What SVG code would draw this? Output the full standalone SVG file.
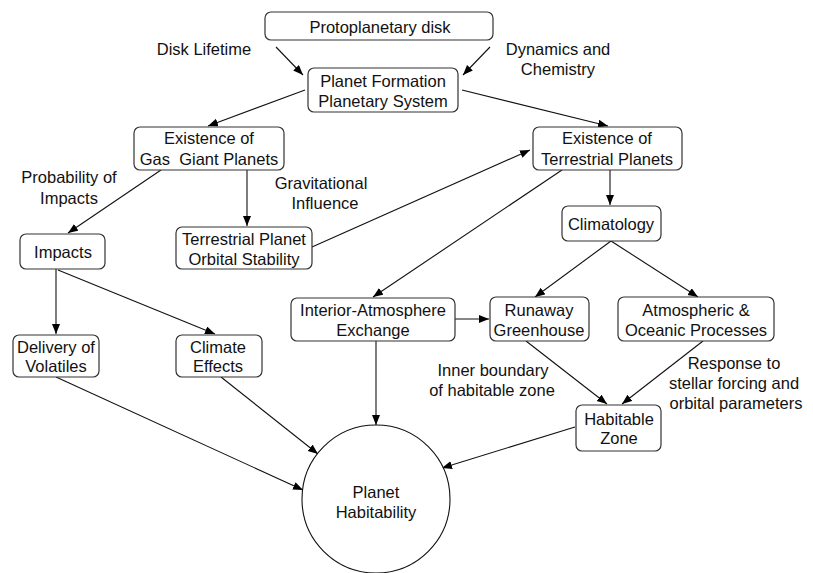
<svg xmlns="http://www.w3.org/2000/svg" width="813" height="573" viewBox="0 0 813 573">
<defs>
<marker id="ah" markerUnits="userSpaceOnUse" markerWidth="11" markerHeight="9" refX="10" refY="4" orient="auto"><path d="M0,0 L10,4 L0,8 z" fill="#000"/></marker>
<style>
text{font-family:"Liberation Sans",Arial,sans-serif;font-size:16.5px;fill:#111;text-anchor:middle;dominant-baseline:central}
.box{fill:#fff;stroke:#333;stroke-width:1.2}
#connectors line{stroke:#111;stroke-width:1.1;marker-end:url(#ah)}
</style>
</defs>
<rect width="813" height="573" fill="#fff"/>
<g id="connectors">
<line x1="276" y1="47" x2="303" y2="75"/>
<line x1="490" y1="47" x2="463" y2="75"/>
<line x1="305" y1="90" x2="208" y2="126"/>
<line x1="462" y1="90" x2="608" y2="126"/>
<line x1="161" y1="170" x2="68" y2="233"/>
<line x1="247" y1="170" x2="247" y2="226"/>
<line x1="312" y1="247" x2="530" y2="150"/>
<line x1="610" y1="170" x2="610" y2="205"/>
<line x1="562" y1="170" x2="373" y2="297"/>
<line x1="611" y1="241" x2="535" y2="297"/>
<line x1="611" y1="241" x2="698" y2="297"/>
<line x1="455" y1="319" x2="489" y2="319"/>
<line x1="56" y1="269" x2="56" y2="334"/>
<line x1="58" y1="270" x2="215" y2="334"/>
<line x1="526" y1="341" x2="607" y2="404"/>
<line x1="703" y1="341" x2="622" y2="404"/>
<line x1="376" y1="341" x2="376" y2="425"/>
<line x1="56" y1="377" x2="303" y2="490"/>
<line x1="221" y1="377" x2="318" y2="454"/>
<line x1="575" y1="427" x2="442" y2="468"/>
</g>
<g id="labels">
<text x="204" y="49">Disk Lifetime</text>
<text x="558" y="49">Dynamics and</text>
<text x="558" y="69">Chemistry</text>
<text x="69" y="177">Probability of</text>
<text x="69" y="198">Impacts</text>
<text x="321" y="183">Gravitational</text>
<text x="325" y="203">Influence</text>
<text x="493" y="370">Inner boundary</text>
<text x="492" y="390">of habitable zone</text>
<text x="734" y="363">Response to</text>
<text x="734" y="383">stellar forcing and</text>
<text x="736" y="403">orbital parameters</text>
</g>
<g id="protoplanetary">
<rect class="box" x="265" y="12" width="228" height="28" rx="6"/>
<text x="380" y="27">Protoplanetary disk</text>
</g>
<g id="planet-formation">
<rect class="box" x="308" y="68" width="150" height="44" rx="6"/>
<text x="383" y="81">Planet Formation</text>
<text x="383" y="101">Planetary System</text>
</g>
<g id="gas-giant">
<rect class="box" x="134" y="127" width="150" height="43" rx="6"/>
<text x="209" y="138">Existence of</text>
<text x="209" y="159" style="white-space:pre">Gas  Giant Planets</text>
</g>
<g id="terrestrial">
<rect class="box" x="533" y="127" width="149" height="43" rx="6"/>
<text x="607" y="138">Existence of</text>
<text x="607" y="159">Terrestrial Planets</text>
</g>
<g id="impacts">
<rect class="box" x="20" y="234" width="85" height="35" rx="6"/>
<text x="63" y="252">Impacts</text>
</g>
<g id="orbital-stability">
<rect class="box" x="176" y="227" width="136" height="42" rx="6"/>
<text x="244" y="239">Terrestrial Planet</text>
<text x="244" y="259">Orbital Stability</text>
</g>
<g id="climatology">
<rect class="box" x="562" y="206" width="99" height="35" rx="6"/>
<text x="611" y="224">Climatology</text>
</g>
<g id="interior-atmosphere">
<rect class="box" x="291" y="298" width="164" height="43" rx="6"/>
<text x="373" y="310">Interior-Atmosphere</text>
<text x="373" y="330">Exchange</text>
</g>
<g id="runaway">
<rect class="box" x="490" y="297" width="99" height="44" rx="6"/>
<text x="539" y="310">Runaway</text>
<text x="539" y="330">Greenhouse</text>
</g>
<g id="atmospheric-oceanic">
<rect class="box" x="618" y="297" width="156" height="44" rx="6"/>
<text x="696" y="310">Atmospheric &amp;</text>
<text x="696" y="330">Oceanic Processes</text>
</g>
<g id="delivery">
<rect class="box" x="13" y="335" width="86" height="42" rx="6"/>
<text x="56" y="347">Delivery of</text>
<text x="56" y="366">Volatiles</text>
</g>
<g id="climate-effects">
<rect class="box" x="176" y="335" width="86" height="42" rx="6"/>
<text x="218" y="347">Climate</text>
<text x="218" y="366">Effects</text>
</g>
<g id="habitable-zone">
<rect class="box" x="576" y="405" width="85" height="46" rx="6"/>
<text x="619" y="419">Habitable</text>
<text x="619" y="438">Zone</text>
</g>
<g id="planet-habitability">
<circle cx="376" cy="499" r="74" fill="#fff" stroke="#111" stroke-width="1.1"/>
<text x="376" y="492">Planet</text>
<text x="376" y="512">Habitability</text>
</g>
</svg>
